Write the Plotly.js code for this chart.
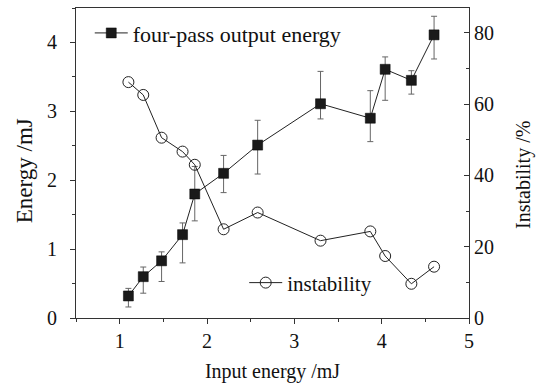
<!DOCTYPE html>
<html>
<head>
<meta charset="utf-8">
<script src="https://cdn.plot.ly/plotly-3.0.1.min.js"></script>
<style>html,body{margin:0;padding:0;background:#fff;}#chart{width:537px;height:383px;}</style>
</head>
<body>
<div id="chart"></div>
<script>
const inputEnergy = [1.10, 1.27, 1.48, 1.72, 1.86, 2.19, 2.58, 3.30, 3.87, 4.04, 4.34, 4.60];
const outputEnergy = [0.32, 0.60, 0.83, 1.21, 1.80, 2.10, 2.51, 3.11, 2.90, 3.61, 3.45, 4.11];
const errPlus = [0.11, 0.14, 0.13, 0.17, 0.40, 0.26, 0.36, 0.47, 0.40, 0.18, 0.14, 0.27];
const errMinus = [0.16, 0.24, 0.30, 0.41, 0.39, 0.28, 0.42, 0.22, 0.34, 0.45, 0.20, 0.35];
const instability = [66.2, 62.6, 50.6, 46.7, 43.0, 24.9, 29.6, 21.7, 24.3, 17.4, 9.6, 14.4];
const xTicks = [1, 2, 3, 4, 5];
const yTicks = [0, 1, 2, 3, 4];
const y2Ticks = [0, 20, 40, 60, 80];

const fam = 'Liberation Serif, Times New Roman, serif';
const tickFont = {family: fam, size: 20, color: '#111'};
const leg1Font = {family: fam, size: 22, color: '#111'};
const leg2Font = {family: fam, size: 21, color: '#111'};
const hTitleFont = {family: fam, size: 20, color: '#111'};
const yTitleFont = {family: fam, size: 23, color: '#111'};
const y2TitleFont = {family: fam, size: 20, color: '#111'};

const traces = [
  {
    x: inputEnergy, y: outputEnergy, type: 'scatter', mode: 'lines+markers',
    name: 'four-pass output energy',
    line: {color: '#222', width: 1},
    marker: {symbol: 'square', size: 10, color: '#1a1a1a', line: {color: '#000', width: 0.5}},
    error_y: {type: 'data', symmetric: false, array: errPlus, arrayminus: errMinus, color: '#666', thickness: 1, width: 3},
    legend: 'legend'
  },
  {
    x: inputEnergy, y: instability, type: 'scatter', mode: 'lines+markers',
    name: 'instability', yaxis: 'y2',
    line: {color: '#222', width: 1},
    marker: {symbol: 'circle-open', size: 11, color: '#222', line: {width: 1}},
    legend: 'legend2'
  }
];

const layout = {
  width: 537, height: 383,
  margin: {l: 76, r: 68, t: 8, b: 65},
  paper_bgcolor: '#fff', plot_bgcolor: '#fff',
  font: tickFont,
  showlegend: true,
  legend: {x: 0.035, y: 0.919, xanchor: 'left', yanchor: 'middle', bgcolor: 'rgba(0,0,0,0)', font: leg1Font, itemwidth: 33},
  legend2: {x: 0.428, y: 0.113, xanchor: 'left', yanchor: 'middle', bgcolor: 'rgba(0,0,0,0)', font: leg2Font, itemwidth: 33},
  xaxis: {
    range: [0.5, 5], tickvals: xTicks, ticktext: xTicks.map(String),
    ticks: 'outside', ticklen: 5, tickcolor: '#333', tickfont: tickFont,
    minor: {dtick: 0.5, tick0: 0, ticks: 'outside', ticklen: 3, tickcolor: '#333'},
    showline: true, linecolor: '#333', linewidth: 1, mirror: true,
    showgrid: false, zeroline: false,
    title: {text: 'Input energy /mJ', font: hTitleFont, standoff: 15},
    automargin: false
  },
  yaxis: {
    range: [0, 4.5], tickvals: yTicks, ticktext: yTicks.map(String),
    ticks: 'outside', ticklen: 5, tickcolor: '#333', tickfont: tickFont,
    minor: {dtick: 0.5, tick0: 0, ticks: 'outside', ticklen: 3, tickcolor: '#333'},
    showline: true, linecolor: '#333', linewidth: 1,
    showgrid: false, zeroline: false, ticklabelstandoff: 9,
    automargin: false
  },
  yaxis2: {
    overlaying: 'y', side: 'right', range: [0, 87],
    tickvals: y2Ticks, ticktext: y2Ticks.map(String),
    ticks: 'inside', ticklen: 5, tickcolor: '#333', tickfont: tickFont,
    minor: {dtick: 10, tick0: 0, ticks: 'inside', ticklen: 3, tickcolor: '#333'},
    showline: true, linecolor: '#333', linewidth: 1,
    showgrid: false, zeroline: false,
    automargin: false
  },
  annotations: [
    {text: 'Energy /mJ', xref: 'paper', yref: 'paper', x: -0.132, y: 0.474, xanchor: 'center', yanchor: 'middle', textangle: -90, showarrow: false, font: yTitleFont},
    {text: 'Instability /%', xref: 'paper', yref: 'paper', x: 1.137, y: 0.461, xanchor: 'center', yanchor: 'middle', textangle: -90, showarrow: false, font: y2TitleFont}
  ]
};

Plotly.newPlot('chart', traces, layout, {displayModeBar: false, staticPlot: true});
</script>
</body>
</html>
